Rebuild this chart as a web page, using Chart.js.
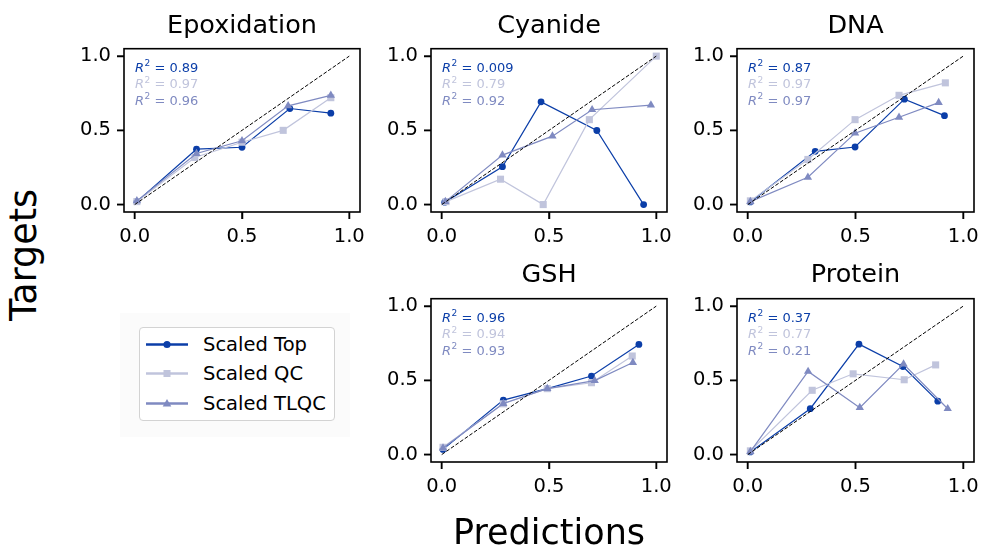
<!DOCTYPE html>
<html><head><meta charset="utf-8">
<script src="https://cdn.jsdelivr.net/npm/chart.js@4.4.1/dist/chart.umd.min.js"></script>
<style>
html,body{margin:0;padding:0;background:#fff;width:982px;height:546px;overflow:hidden;font-family:'DejaVu Sans',sans-serif;}
.cv{position:absolute;}
.title{position:absolute;width:300px;text-align:center;font-size:25.5px;line-height:26px;color:#000;white-space:nowrap;}
.axlabel{position:absolute;font-size:35px;line-height:36px;color:#000;white-space:nowrap;}
#legendBg{position:absolute;left:120px;top:313px;width:230px;height:124px;background:#fbfbfb;}
#legend{position:absolute;left:139px;top:327px;width:194px;height:92px;border:1px solid #d3d3d3;border-radius:4px;background:#fff;}
.lrow{position:absolute;left:0;height:29px;width:194px;}
.lrow svg{position:absolute;left:5px;top:0;}
.lrow span{position:absolute;left:63px;top:0;font-size:19.5px;line-height:29px;color:#000;}
</style></head><body>
<div id="legendBg"></div>
<div id="legend"></div>
<script>
// ---------- data ----------
const panelTitles = ['Epoxidation', 'Cyanide', 'DNA', 'GSH', 'Protein'];
const seriesNames = ['Scaled Top', 'Scaled QC', 'Scaled TLQC'];
const tickValues = [0, 0.5, 1.0];
const tickLabels = ['0.0', '0.5', '1.0'];

// [prediction, target] pairs
const epoxidationTop  = [[0.01,0.02],[0.288,0.373],[0.5,0.386],[0.723,0.647],[0.914,0.616]];
const epoxidationQC   = [[0.01,0.02],[0.28,0.317],[0.5,0.42],[0.692,0.5],[0.914,0.72]];
const epoxidationTLQC = [[0.01,0.025],[0.288,0.344],[0.5,0.43],[0.715,0.665],[0.914,0.736]];

const cyanideTop  = [[0.014,0.016],[0.283,0.255],[0.463,0.692],[0.723,0.499],[0.941,0.0]];
const cyanideQC   = [[0.02,0.02],[0.274,0.171],[0.473,0.0],[0.688,0.572],[1.0,1.0]];
const cyanideTLQC = [[0.017,0.02],[0.283,0.333],[0.516,0.461],[0.701,0.639],[0.975,0.67]];

const dnaTop  = [[0.012,0.018],[0.313,0.359],[0.498,0.388],[0.727,0.71],[0.913,0.599]];
const dnaQC   = [[0.012,0.025],[0.279,0.304],[0.498,0.572],[0.702,0.736],[0.917,0.82]];
const dnaTLQC = [[0.012,0.02],[0.279,0.184],[0.498,0.481],[0.702,0.588],[0.886,0.687]];

const gshTop  = [[0.006,0.035],[0.287,0.367],[0.492,0.444],[0.698,0.529],[0.919,0.742]];
const gshQC   = [[0.006,0.049],[0.287,0.342],[0.492,0.444],[0.698,0.484],[0.888,0.664]];
const gshTLQC = [[0.006,0.044],[0.287,0.344],[0.492,0.444],[0.713,0.498],[0.891,0.62]];

const proteinTop  = [[0.012,0.018],[0.29,0.309],[0.516,0.744],[0.72,0.593],[0.882,0.36]];
const proteinQC   = [[0.012,0.025],[0.299,0.433],[0.489,0.544],[0.726,0.504],[0.872,0.604]];
const proteinTLQC = [[0.012,0.02],[0.28,0.56],[0.52,0.316],[0.723,0.609],[0.928,0.309]];

const epoxidationR2 = ['0.89', '0.97', '0.96'];
const cyanideR2     = ['0.009', '0.79', '0.92'];
const dnaR2         = ['0.87', '0.97', '0.97'];
const gshR2         = ['0.96', '0.94', '0.93'];
const proteinR2     = ['0.37', '0.77', '0.21'];

const identityLine = [[0, 0], [1, 1]];

// ---------- styling / layout ----------
const seriesColors = ['#0b3ea8', '#c0c4dc', '#7f8ac1'];
const seriesPointStyles = ['circle', 'rect', 'triangle'];
const seriesPointRadius = [3.4, 5, 4.8];
const panelSeries = [
  [epoxidationTop, epoxidationQC, epoxidationTLQC],
  [cyanideTop, cyanideQC, cyanideTLQC],
  [dnaTop, dnaQC, dnaTLQC],
  [gshTop, gshQC, gshTLQC],
  [proteinTop, proteinQC, proteinTLQC]
];
const panelR2 = [epoxidationR2, cyanideR2, dnaR2, gshR2, proteinR2];
// chart area boxes: left, top, width, height
const panelBoxes = [
  [124, 47, 236, 165],
  [431, 47, 236, 165],
  [737, 47, 237, 165],
  [431, 297, 236, 165],
  [737, 297, 237, 165]
];
const titleBaselines = [33, 33, 33, 282, 282];
const AX_W = 70, AX_H = 45, PAD_T = 16, PAD_R = 24;
const FONT = "'DejaVu Sans', sans-serif";

const framePlugin = {
  id: 'frame',
  afterDraw(chart, args, opts) {
    const a = chart.chartArea, ctx = chart.ctx;
    ctx.save();
    ctx.strokeStyle = '#000';
    ctx.lineWidth = 1.6;
    ctx.strokeRect(a.left, a.top, a.right - a.left, a.bottom - a.top);
    // tick marks
    ctx.fillStyle = '#000';
    tickValues.forEach(v => {
      const px = chart.scales.x.getPixelForValue(v);
      ctx.fillRect(px - 0.75, a.bottom, 1.5, 7);
      const py = chart.scales.y.getPixelForValue(v);
      ctx.fillRect(a.left - 7, py - 0.75, 7, 1.5);
    });
    // R^2 annotations
    const vals = opts.r2 || [];
    vals.forEach((v, i) => {
      let x = a.left + 11;
      const y = a.top + 23 + i * 16.6;
      ctx.fillStyle = seriesColors[i];
      ctx.textBaseline = 'alphabetic';
      ctx.font = "italic 13px " + FONT;
      ctx.fillText('R', x, y);
      x += ctx.measureText('R').width + 0.5;
      ctx.font = "9px " + FONT;
      ctx.fillText('2', x, y - 5.5);
      x += ctx.measureText('2').width;
      ctx.font = "13px " + FONT;
      ctx.fillText(' = ' + v, x, y);
    });
    ctx.restore();
  }
};

function axisCfg(isX) {
  return {
    type: 'linear',
    min: -0.05, max: 1.05,
    afterBuildTicks: s => { s.ticks = tickValues.map(v => ({ value: v })); },
    afterFit: s => { if (isX) s.height = AX_H; else s.width = AX_W; },
    border: { display: false },
    grid: { display: true, drawOnChartArea: false, drawTicks: true, tickLength: 7, tickWidth: 1.5, tickColor: '#000', color: '#000' },
    ticks: {
      font: { family: FONT, size: 19.5 }, color: '#000', padding: 6,
      maxRotation: 0, autoSkip: false,
      callback: (v, i) => tickLabels[i]
    }
  };
}

panelTitles.forEach((title, p) => {
  const [L, T, W, H] = panelBoxes[p];
  const cw = AX_W + W + PAD_R, ch = PAD_T + H + AX_H;
  const cv = document.createElement('canvas');
  cv.className = 'cv';
  cv.width = cw; cv.height = ch;
  cv.style.left = (L - AX_W) + 'px';
  cv.style.top = (T - PAD_T) + 'px';
  cv.style.width = cw + 'px'; cv.style.height = ch + 'px';
  document.body.appendChild(cv);

  const datasets = panelSeries[p].map((pts, s) => ({
    label: seriesNames[s],
    data: pts.map(d => ({ x: d[0], y: d[1] })),
    borderColor: seriesColors[s],
    backgroundColor: seriesColors[s],
    pointBackgroundColor: seriesColors[s],
    pointBorderWidth: 0,
    pointStyle: seriesPointStyles[s],
    pointRadius: seriesPointRadius[s],
    borderWidth: 1.2,
    showLine: true,
    tension: 0,
    order: 3 - s
  }));
  datasets.push({
    label: 'identity',
    data: identityLine.map(d => ({ x: d[0], y: d[1] })),
    borderColor: '#000',
    borderWidth: 1,
    borderDash: [3.8, 1.8],
    pointRadius: 0,
    showLine: true,
    order: 0
  });

  new Chart(cv, {
    type: 'scatter',
    data: { datasets },
    options: {
      responsive: false,
      animation: false,
      devicePixelRatio: 1,
      layout: { padding: { top: PAD_T, right: PAD_R, left: 0, bottom: 0 } },
      clip: false,
      plugins: { legend: { display: false }, tooltip: { enabled: false }, frame: { r2: panelR2[p] } },
      scales: { x: axisCfg(true), y: axisCfg(false) }
    },
    plugins: [framePlugin]
  });

  const t = document.createElement('div');
  t.className = 'title';
  t.textContent = title;
  t.style.left = (L + W / 2 - 150) + 'px';
  t.style.top = (titleBaselines[p] - 22) + 'px';
  document.body.appendChild(t);
});

// axis labels
const yl = document.createElement('div');
yl.className = 'axlabel';
yl.textContent = 'Targets';
yl.style.fontSize = '36.5px';
yl.style.left = '24px'; yl.style.top = '255px';
yl.style.transform = 'translate(-50%,-50%) rotate(-90deg)';
document.body.appendChild(yl);
const xl = document.createElement('div');
xl.className = 'axlabel';
xl.textContent = 'Predictions';
xl.style.left = '549px'; xl.style.top = '514px';
xl.style.transform = 'translateX(-50%)';
document.body.appendChild(xl);

// legend
const legend = document.getElementById('legend');
seriesNames.forEach((name, s) => {
  const row = document.createElement('div');
  row.className = 'lrow';
  row.style.top = (2 + s * 29.3) + 'px';
  const c = seriesColors[s];
  let marker = '';
  if (s === 0) marker = `<circle cx="22" cy="14.5" r="3.6" fill="${c}"/>`;
  else if (s === 1) marker = `<rect x="18.5" y="11" width="7" height="7" fill="${c}"/>`;
  else marker = `<polygon points="22,10 26.3,17.5 17.7,17.5" fill="${c}"/>`;
  row.innerHTML = `<svg width="48" height="29"><line x1="1" y1="14.5" x2="43" y2="14.5" stroke="${c}" stroke-width="2.6"/>${marker}</svg><span>${name}</span>`;
  legend.appendChild(row);
});
</script>
</body></html>
